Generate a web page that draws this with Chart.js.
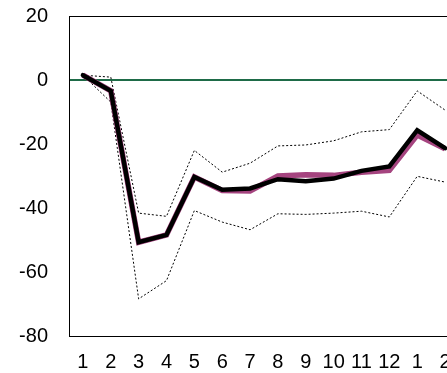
<!DOCTYPE html>
<html>
<head>
<meta charset="utf-8">
<script src="https://cdn.jsdelivr.net/npm/chart.js@4.4.0/dist/chart.umd.min.js"></script>
<style>
  html, body { margin: 0; padding: 0; background: #fff; overflow: hidden; }
  #wrap { width: 460px; height: 373px; }
</style>
</head>
<body>
<div id="wrap"><canvas id="chart" width="460" height="373"></canvas></div>
<script>
        // Data
        const months = ['1', '2', '3', '4', '5', '6', '7', '8', '9', '10', '11', '12', '1', '2'];
        const mainSeries = [1.5, -3.4, -50.7, -48.4, -30.3, -34.3, -33.9, -31.0, -31.6, -30.8, -28.4, -27.0, -15.7, -21.3];
        const altSeries = [1.5, -3.4, -50.7, -48.4, -30.3, -34.5, -34.7, -30.0, -29.6, -29.8, -28.8, -28.2, -17.2, -21.5];
        const upperBand = [1.5, 0.9, -41.6, -42.6, -22.0, -28.8, -26.0, -20.6, -20.3, -19.0, -16.2, -15.5, -3.4, -9.4];
        const lowerBand = [1.5, -6.9, -68.4, -62.7, -40.8, -44.4, -46.8, -41.8, -42.0, -41.6, -41.0, -42.8, -30.1, -31.9];
        const yTicks = [20, 0, -20, -40, -60, -80];

        const labelFont = { family: '"Liberation Sans", Arial, sans-serif', size: 20 };

        // box round the plot area
        const frame = {
            id: 'frame',
            afterDraw(chart) {
                const { ctx, chartArea: a } = chart;
                ctx.save();
                ctx.strokeStyle = '#000';
                ctx.lineWidth = 1;
                ctx.strokeRect(a.left + 0.5, a.top + 0.5, a.right - a.left, a.bottom - a.top);
                ctx.restore();
            }
        };

        const thin = (data) => ({
            data: data,
            borderColor: '#000',
            borderWidth: 1,
            borderDash: [2, 2],
            pointRadius: 0,
            tension: 0,
            fill: false
        });

        new Chart(document.getElementById('chart').getContext('2d'), {
            type: 'line',
            data: {
                labels: months,
                datasets: [
                    { ...thin(upperBand), order: 3 },
                    { ...thin(lowerBand), order: 3 },
                    {
                        data: altSeries,
                        borderColor: '#a5447f',
                        borderWidth: 5.5,
                        pointRadius: 0,
                        tension: 0,
                        order: 2
                    },
                    {
                        data: mainSeries,
                        borderColor: '#000',
                        borderWidth: 4.5,
                        pointRadius: 0,
                        tension: 0,
                        borderCapStyle: 'round',
                        order: 1
                    }
                ]
            },
            options: {
                responsive: false,
                animation: false,
                layout: { padding: { left: 0, right: 1, top: 16, bottom: 0 } },
                plugins: { legend: { display: false }, tooltip: { enabled: false } },
                scales: {
                    x: {
                        offset: true,
                        grid: { display: false, drawTicks: false },
                        border: { display: false },
                        ticks: {
                            color: '#000',
                            padding: 14,
                            maxRotation: 0,
                            autoSkip: false,
                            font: labelFont
                        },
                        afterFit: (s) => { s.height = 37; s.paddingLeft = 0; s.paddingRight = 0; }
                    },
                    y: {
                        min: -80,
                        max: 20,
                        afterBuildTicks: (s) => { s.ticks = yTicks.map(v => ({ value: v })); },
                        grid: {
                            drawTicks: false,
                            color: (c) => c.tick && c.tick.value === 0 ? '#1e6b47' : 'rgba(0,0,0,0)',
                            lineWidth: 2
                        },
                        border: { display: false },
                        ticks: {
                            color: '#000',
                            padding: 21,
                            font: labelFont
                        },
                        afterFit: (s) => { s.width = 69; s.paddingTop = 0; s.paddingBottom = 0; }
                    }
                }
            },
            plugins: [frame]
        });
    </script>
</body>
</html>
